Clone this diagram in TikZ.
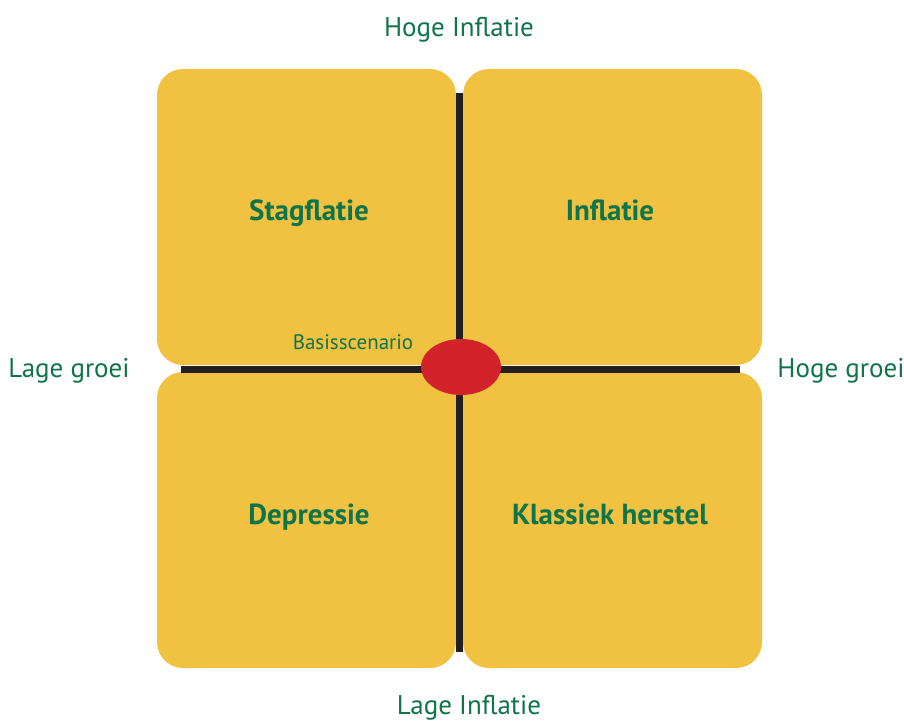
\documentclass[tikz,border=0pt]{standalone}
\usepackage{fontspec}
\setmainfont{PT Sans}
\usetikzlibrary{shapes.geometric}
\definecolor{kwadrant}{HTML}{F1C141}
\definecolor{labelgroen}{HTML}{0F7449}
\definecolor{asrood}{HTML}{D2232A}
\definecolor{aszwart}{HTML}{231F20}
\tikzset{
    kwadrantvak/.style={fill=kwadrant,rounded corners=26pt,minimum width=299pt,minimum height=296pt,inner sep=0pt},
    scenario/.style={text=labelgroen,anchor=base,inner sep=0pt,font=\fontsize{29}{34}\selectfont\bfseries},
    aslabel/.style={text=labelgroen,anchor=base,inner sep=0pt,font=\fontsize{27}{32}\selectfont},
    as/.style={aszwart,line width=7pt}
}
\begin{document}
\begin{tikzpicture}[x=1pt,y=-1pt]
                \useasboundingbox (0,0) rectangle (904,722);
                %% kwadranten
                \node[kwadrantvak] (stag) at (306.5,217) {};
                \node[kwadrantvak] (infl) at (612.5,217) {};
                \node[kwadrantvak] (depr) at (306.5,520) {};
                \node[kwadrantvak] (hers) at (612.5,520) {};
                %% assen
                \coordinate (boven) at (459.5,93);
                \coordinate (onder) at (459.5,652);
                \coordinate (links) at (181,369);
                \coordinate (rechts) at (740,369);
                \draw[as] (boven) -- (onder);
                \draw[as] (links) -- (rechts);
                %% basisscenario
                \node[ellipse,fill=asrood,minimum width=80pt,minimum height=56pt,inner sep=0pt] (basis) at (461,367) {};
                \node[text=labelgroen,anchor=base,inner sep=0pt,font=\fontsize{21}{25}\selectfont] (basislabel) at (353,349) {Basisscenario};
                %% scenario namen
                \node[scenario] (stagtekst) at (309,220) {Stagflatie};
                \node[scenario] (infltekst) at (610,220) {Inflatie};
                \node[scenario] (deprtekst) at (309,524) {Depressie};
                \node[scenario] (herstekst) at (610,524) {Klassiek herstel};
                %% as labels
                \node[aslabel] (hogeinfl) at (459,37) {Hoge Inflatie};
                \node[aslabel] (lageinfl) at (469,714) {Lage Inflatie};
                \node[aslabel] (lagegroei) at (69,377) {Lage groei};
                \node[aslabel] (hogegroei) at (841,377) {Hoge groei};
\end{tikzpicture}
\end{document}
